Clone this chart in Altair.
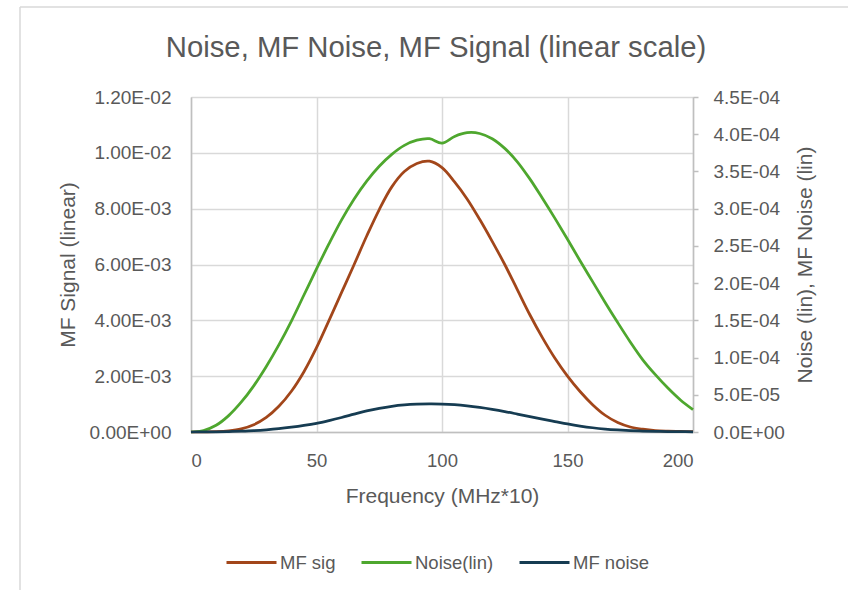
import altair as alt
import pandas as pd

freq = [0, 5, 10, 15, 20, 25, 30, 35, 40, 45, 50, 55, 60, 65, 70, 75, 80, 85, 90, 95,
        100, 105, 110, 115, 120, 125, 130, 135, 140, 145, 150, 155, 160, 165, 170, 175,
        180, 185, 190, 195, 200]

mf_sig = [0, 0.000003, 0.00001, 0.00004, 0.00011, 0.00026, 0.00052, 0.00092, 0.00146,
          0.00216, 0.00302, 0.00400, 0.00500, 0.00600, 0.00702, 0.00797, 0.00878, 0.00933,
          0.00962, 0.00970, 0.00947, 0.00896, 0.00835, 0.00762, 0.00683, 0.00600, 0.00510,
          0.00420, 0.00338, 0.00264, 0.00200, 0.00145, 0.00098, 0.00060, 0.00034, 0.00018,
          0.00010, 0.00005, 0.00003, 0.00002, 0.00001]

noise_lin = [0, 0.000002, 0.000009, 0.000022, 0.000040, 0.000062, 0.000088, 0.000117,
             0.000149, 0.000184, 0.000219, 0.000253, 0.000285, 0.000313, 0.000337, 0.000357,
             0.000373, 0.000385, 0.000392, 0.000394, 0.000388, 0.000397, 0.000402, 0.000401,
             0.000394, 0.000381, 0.000363, 0.000340, 0.000314, 0.000287, 0.000259, 0.000230,
             0.000202, 0.000174, 0.000147, 0.000121, 0.000097, 0.000077, 0.000059, 0.000043,
             0.000030]

mf_noise = [0, 0.0000001, 0.0000003, 0.0000006, 0.0000011, 0.0000018, 0.0000029, 0.0000044,
            0.0000064, 0.0000088, 0.0000117, 0.0000154, 0.0000195, 0.0000240, 0.0000283,
            0.0000318, 0.0000345, 0.0000363, 0.0000373, 0.0000377, 0.0000375, 0.0000367,
            0.0000352, 0.0000331, 0.0000305, 0.0000275, 0.0000241, 0.0000206, 0.0000172,
            0.0000140, 0.0000108, 0.0000080, 0.0000057, 0.0000040, 0.0000028, 0.0000019,
            0.0000013, 0.0000009, 0.0000006, 0.0000004, 0.0000003]

series_names = ["MF sig", "Noise(lin)", "MF noise"]
series_colors = ["#A2461A", "#4EA72E", "#163C52"]
left_ticks = [0, 0.002, 0.004, 0.006, 0.008, 0.010, 0.012]
right_ticks = [0, 0.00005, 0.0001, 0.00015, 0.0002, 0.00025, 0.0003, 0.00035, 0.0004, 0.00045]
x_ticks = [0, 50, 100, 150, 200]
title_text = "Noise, MF Noise, MF Signal (linear scale)"

FONT = "Liberation Sans"
TXT = "#595959"

df_left = pd.DataFrame({"freq": freq, "value": mf_sig, "series": "MF sig"})
df_right = pd.concat([
    pd.DataFrame({"freq": freq, "value": noise_lin, "series": "Noise(lin)"}),
    pd.DataFrame({"freq": freq, "value": mf_noise, "series": "MF noise"}),
])

color = alt.Color(
    "series:N",
    scale=alt.Scale(domain=series_names, range=series_colors),
    sort=series_names,
    legend=alt.Legend(
        title=None, orient="none", direction="horizontal", legendX=34, legendY=439,
        symbolType="stroke", symbolSize=2500, symbolStrokeWidth=3,
        labelFontSize=18.5, labelFont=FONT, labelColor=TXT, labelOffset=2,
        columnPadding=19,
    ),
)

x = alt.X(
    "freq:Q",
    scale=alt.Scale(domain=[0, 200], nice=False, zero=False),
    axis=alt.Axis(
        values=x_ticks, title="Frequency (MHz*10)", grid=True, ticks=False,
        gridColor="#D9D9D9", gridWidth=1.5, domainColor="#BFBFBF", domainWidth=1.5,
        labelFontSize=18.5, labelFont=FONT, labelColor=TXT, labelPadding=19,
        titleFontSize=21, titleFont=FONT, titleColor=TXT, titleFontWeight="normal",
        titlePadding=16,
    ),
)

left = alt.Chart(df_left).mark_line(interpolate="catmull-rom", strokeWidth=2.75).encode(
    x=x,
    y=alt.Y(
        "value:Q",
        scale=alt.Scale(domain=[0, 0.012], nice=False),
        axis=alt.Axis(
            orient="left", values=left_ticks, title="MF Signal (linear)",
            labelExpr="replace(replace(format(datum.value, '.2e'), 'e-', 'E-0'), 'e+', 'E+0')",
            grid=True, gridColor="#D9D9D9", gridWidth=1.5, ticks=False,
            domainColor="#BFBFBF", domainWidth=1.5,
            labelFontSize=19, labelFont=FONT, labelColor=TXT, labelPadding=20,
            titleFontSize=21, titleFont=FONT, titleColor=TXT, titleFontWeight="normal",
            titlePadding=11,
        ),
    ),
    color=color,
)

right = alt.Chart(df_right).mark_line(interpolate="catmull-rom", strokeWidth=2.75).encode(
    x=x,
    y=alt.Y(
        "value:Q",
        scale=alt.Scale(domain=[0, 0.00045], nice=False),
        axis=alt.Axis(
            orient="right", values=right_ticks, title="Noise (lin), MF Noise (lin)",
            labelExpr="replace(replace(format(datum.value, '.1e'), 'e-', 'E-0'), 'e+', 'E+0')",
            grid=False, ticks=True, tickSize=5, tickColor="#BFBFBF", tickWidth=1.5,
            domainColor="#BFBFBF", domainWidth=1.5,
            labelFontSize=19, labelFont=FONT, labelColor=TXT, labelPadding=15,
            titleFontSize=21, titleFont=FONT, titleColor=TXT, titleFontWeight="normal",
            titlePadding=31, titleAngle=270,
        ),
    ),
    color=color,
    detail="series:N",
)

deco_df = pd.DataFrame({"k": [0]})
border_left = alt.Chart(deco_df).mark_rule(color="#D9D9D9", strokeWidth=1.5).encode(
    x=alt.value(-171), y=alt.value(-90), y2=alt.value(600)
)
border_top = alt.Chart(deco_df).mark_rule(color="#D9D9D9", strokeWidth=1.5).encode(
    x=alt.value(-171), x2=alt.value(700), y=alt.value(-90)
)
title = alt.Chart(deco_df).mark_text(
    text=title_text, font=FONT, fontSize=29.3, color=TXT, align="center",
    baseline="alphabetic",
).encode(x=alt.value(245), y=alt.value(-40))

chart = alt.layer(border_left, border_top, title, left, right).resolve_scale(
    y="independent"
).properties(
    width=502,
    height=335,
    padding={"left": 191, "top": 97, "right": 155, "bottom": 158},
    autosize=alt.AutoSizeParams(type="none"),
).configure_view(stroke=None).configure(background="white")

chart.save("out.html", embed_options={"renderer": "svg", "actions": False})
